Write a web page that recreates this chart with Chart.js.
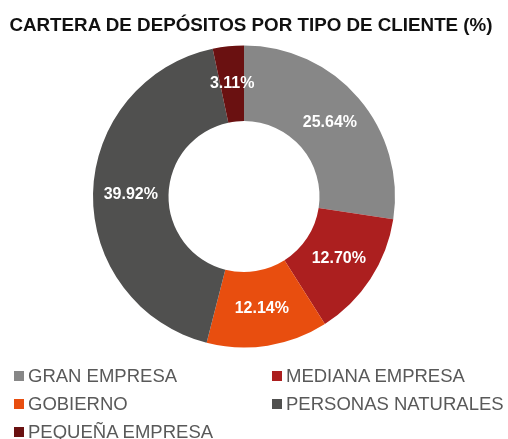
<!DOCTYPE html>
<html>
<head>
<meta charset="utf-8">
<script src="https://cdn.jsdelivr.net/npm/chart.js@4/dist/chart.umd.min.js"></script>
<style>
    body { margin: 0; background: #fff; }
    .contenedor { position: relative; width: 508px; height: 439px; font-family: "Liberation Sans", Arial, sans-serif; }
    .titulo { position: absolute; left: 0; width: 502px; top: 14px; text-align: center; font-weight: bold; font-size: 18.8px; color: #111; }
    canvas { position: absolute; left: 0; top: 0; }
    .leyenda { position: absolute; left: 0; top: 366px; width: 508px; }
    .itemLeyenda { position: absolute; font-size: 18.5px; color: #595959; line-height: 20px; white-space: nowrap; }
    .itemLeyenda span { display: inline-block; width: 10px; height: 10px; margin-right: 4px; vertical-align: 1px; }
</style>
</head>
<body>
<div class="contenedor">
    <canvas id="grafico" width="508" height="439"></canvas>
    <div class="titulo">CARTERA DE DEPÓSITOS POR TIPO DE CLIENTE (%)</div>
    <div class="leyenda" id="leyenda"></div>
</div>
<script>
const categorias = ['GRAN EMPRESA', 'MEDIANA EMPRESA', 'GOBIERNO', 'PERSONAS NATURALES', 'PEQUEÑA EMPRESA'];
const porcentajes = [25.64, 12.70, 12.14, 39.92, 3.11];
const colores = ['#878787', '#AC1F1F', '#E84E0F', '#50504F', '#6A1111'];

// etiquetas blancas en el centro de cada sector
const etiquetasSectores = {
    id: 'etiquetasSectores',
    afterDatasetsDraw(chart) {
        const ctx = chart.ctx;
        const meta = chart.getDatasetMeta(0);
        ctx.save();
        ctx.fillStyle = '#fff';
        ctx.font = 'bold 16px "Liberation Sans", Arial, sans-serif';
        ctx.textAlign = 'center';
        ctx.textBaseline = 'middle';
        meta.data.forEach((arco, i) => {
            const pos = arco.tooltipPosition();
            ctx.fillText(porcentajes[i].toFixed(2) + '%', pos.x, pos.y);
        });
        ctx.restore();
    }
};

const contexto = document.getElementById('grafico').getContext('2d');
const miGrafico = new Chart(contexto, {
    type: 'doughnut',
    data: {
        labels: categorias,
        datasets: [{
            data: porcentajes,
            backgroundColor: colores,
            borderWidth: 0
        }]
    },
    options: {
        responsive: false,
        animation: false,
        cutout: '50%',
        layout: { padding: { top: 45, bottom: 91, left: 93, right: 113 } },
        plugins: {
            legend: { display: false },
            tooltip: { enabled: false }
        }
    },
    plugins: [etiquetasSectores]
});

// leyenda en dos columnas
const leyenda = document.getElementById('leyenda');
const posiciones = [[14, 0], [272, 0], [14, 28], [272, 28], [14, 56]];
categorias.forEach((nombre, i) => {
    const item = document.createElement('div');
    item.className = 'itemLeyenda';
    item.style.left = posiciones[i][0] + 'px';
    item.style.top = posiciones[i][1] + 'px';
    const cuadro = document.createElement('span');
    cuadro.style.background = colores[i];
    item.appendChild(cuadro);
    item.appendChild(document.createTextNode(nombre));
    leyenda.appendChild(item);
});
</script>
</body>
</html>
